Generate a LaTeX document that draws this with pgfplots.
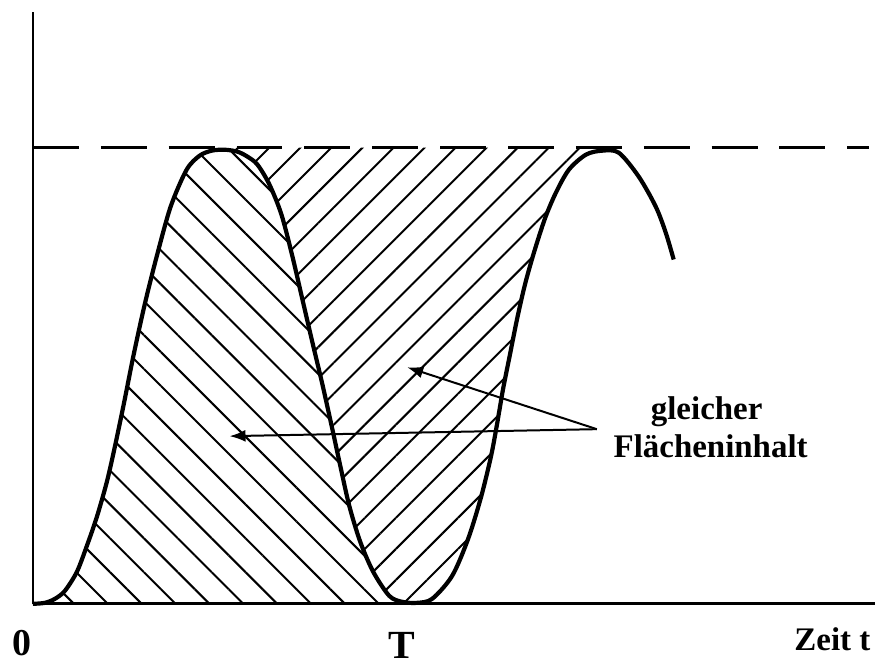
\documentclass[border=0pt]{standalone}
\usepackage{fontspec}
\setmainfont{Liberation Serif}
\usepackage{pgfplots}
\pgfplotsset{compat=1.18}
\usepgfplotslibrary{fillbetween}
\usetikzlibrary{patterns.meta,arrows.meta}
\begin{document}
\begin{tikzpicture}
\begin{axis}[
  scale only axis, width=422pt, height=296.5pt,
  xmin=0, xmax=844, ymin=0, ymax=593,
  axis x line=bottom, axis y line=left,
  axis line style={-, line width=1.4pt},
  xtick=\empty, ytick=\empty,
  clip=false,
]
% invisible frame that fixes the picture's extent
\path (axis cs:-33,-59) rectangle (axis cs:844,605);

\addplot[draw=none, name path=base, forget plot] coordinates {(0,0) (844,0)};
\addplot[black, line width=1.5pt, dash pattern=on 23pt off 11pt, name path=top, forget plot] coordinates {(0,457) (838,457)};

\addplot[black, line width=2.1pt, smooth, tension=0.5, line join=round, name path=curve] coordinates {
(0,0) (12,1) (22,5) (32,13) (44,32) (54,58) (64,87) (74,122) (82,157) (91,200)
(101,250) (112,300) (124,348) (138,398) (154,435) (167,449) (179,454) (192,455)
(205,453) (215,448) (225,440) (237,420) (249,390) (260,348) (270,305) (280,262) (290,220)
(300,175) (308,138) (317,98) (328,62) (341,32) (357,8) (370,2) (385,1)
(400,5) (420,28) (436,65) (449,107) (459,148) (465,180) (471,215) (478,250)
(485,285) (493,320) (502,352) (513,386) (524,412) (537,435) (554,450) (570,454)
(587,452) (607,428) (624,398) (634,372) (642,345)
};

\addplot[draw=none, pattern={Lines[angle=-45,distance=12pt,line width=1pt]}]
  fill between[of=curve and base, soft clip={domain=0:385}];
\addplot[draw=none, pattern={Lines[angle=45,distance=11pt,line width=1pt]}]
  fill between[of=curve and top, soft clip={domain=192:570}];

% arrows
\draw[line width=1pt, -{Latex[length=8pt,width=6pt]}] (axis cs:565,175) -- (axis cs:197,168);
\draw[line width=1pt, -{Latex[length=8pt,width=6pt]}] (axis cs:565,175) -- (axis cs:375,237);

% texts
\node[anchor=base, font=\fontsize{16.5}{18}\selectfont\bfseries] at (axis cs:675,185) {gleicher};
\node[anchor=base, font=\fontsize{16.5}{18}\selectfont\bfseries] at (axis cs:679,147) {Flächeninhalt};
\node[anchor=base, font=\fontsize{19}{20}\selectfont\bfseries] at (axis cs:-11,-52) {0};
\node[anchor=base, font=\fontsize{20}{22}\selectfont\bfseries] at (axis cs:370,-55) {T};
\node[anchor=base, font=\fontsize{16.5}{18}\selectfont\bfseries] at (axis cs:801,-47) {Zeit t};
\end{axis}
\end{tikzpicture}
\end{document}
